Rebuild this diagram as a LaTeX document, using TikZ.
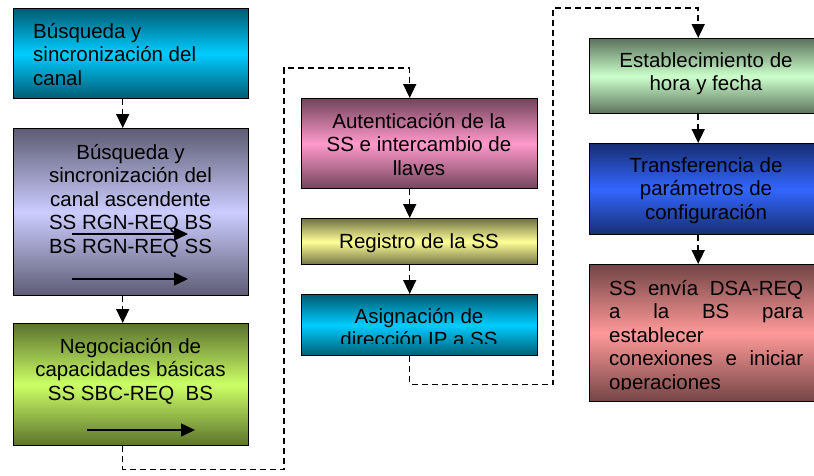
\documentclass[tikz,border=0pt]{standalone}
\usepackage{fontspec}
\setmainfont{Liberation Sans}
\usetikzlibrary{arrows.meta}
\definecolor{cyanc}{HTML}{00CCFF}
\definecolor{lavc}{HTML}{CCCCFF}
\definecolor{limec}{HTML}{CCFF66}
\definecolor{pinkc}{HTML}{FF99CC}
\definecolor{yelc}{HTML}{FFFF99}
\definecolor{mintc}{HTML}{CCFFCC}
\definecolor{bluec}{HTML}{3366FF}
\definecolor{rosec}{HTML}{FF9999}
\begin{document}
\begin{tikzpicture}[x=1pt,y=-1pt,
  box/.style={draw=black,line width=1.4pt,anchor=north west,inner sep=0pt,
    minimum width=235pt,top color=#1!45!black,bottom color=#1!45!black,middle color=#1},
  txt/.style={inner sep=0pt,font=\fontsize{20.5pt}{23.5pt}\selectfont},
  conn/.style={line width=1.5pt,dash pattern=on 6pt off 4pt,
    -{Triangle[length=14pt,width=13pt]}},
  inarrow/.style={line width=1.5pt,-{Triangle[length=14pt,width=13pt]}}]
\useasboundingbox (0,0) rectangle (814,475);
% boxes
\node[box=cyanc,minimum height=90pt] (b1) at (13,8) {};
\node[box=lavc,minimum height=167pt] (b2) at (13,128) {};
\node[box=limec,minimum height=122pt] (b3) at (13,323) {};
\node[box=pinkc,minimum height=90pt,minimum width=236pt] (b4) at (301,98) {};
\node[box=yelc,minimum height=46pt,minimum width=236pt] (b5) at (301,218) {};
\node[box=cyanc,minimum height=61pt,minimum width=236pt] (b6) at (301,294) {};
\node[box=mintc,minimum height=75pt] (b7) at (589,38) {};
\node[box=bluec,minimum height=91pt] (b8) at (589,143) {};
\node[box=rosec,minimum height=137pt] (b9) at (589,264) {};
% texts
\node[txt,anchor=base west] (t1) at (33,38) {\begin{minipage}[t]{210pt}\raggedright
Búsqueda y\\ sincronización del\\ canal\end{minipage}};
\node[txt,anchor=base] (t2) at (130.5,159) {\begin{minipage}[t]{235pt}\centering
Búsqueda y\\ sincronización del\\ canal ascendente\\ SS RGN-REQ BS\\ BS RGN-REQ SS\end{minipage}};
\node[txt,anchor=base] (t3) at (130.5,353) {\begin{minipage}[t]{235pt}\centering
Negociación de\\ capacidades básicas\\ SS SBC-REQ\ \ BS\end{minipage}};
\node[txt,anchor=base] (t4) at (419,128) {\begin{minipage}[t]{236pt}\centering
Autenticación de la\\ SS e intercambio de\\ llaves\end{minipage}};
\node[txt,anchor=base] (t5) at (419,248) {Registro de la SS};
\begin{scope}
\clip (301,294) rectangle (537,343);
\node[txt,anchor=base] (t6) at (419,323) {\begin{minipage}[t]{236pt}\centering
Asignación de\\ dirección IP a SS\end{minipage}};
\end{scope}
\node[txt,anchor=base] (t7) at (706,67) {\begin{minipage}[t]{235pt}\centering
Establecimiento de\\ hora y fecha\end{minipage}};
\node[txt,anchor=base] (t8) at (706,172) {\begin{minipage}[t]{235pt}\centering
Transferencia de\\ parámetros de\\ configuración\end{minipage}};
\begin{scope}
\clip (589,264) rectangle (823,389);
\node[txt,anchor=base west] (t9) at (609,295) {\begin{minipage}[t]{194pt}\raggedright
\makebox[\linewidth][s]{SS envía DSA-REQ}\\
\makebox[\linewidth][s]{a la BS para}\\
establecer\\
\makebox[\linewidth][s]{conexiones e iniciar}\\
operaciones\end{minipage}};
\end{scope}
% arrows inside boxes
\draw[inarrow] (72,234) -- (188,234);
\draw[inarrow] (72,279) -- (188,279);
\draw[inarrow] (87,430) -- (195,430);
% connectors
\draw[conn] ([xshift=-8.5pt]b1.south) -- ([xshift=-8.5pt]b2.north);
\draw[conn] ([xshift=-8.5pt]b2.south) -- ([xshift=-8.5pt]b3.north);
\draw[conn] ([xshift=-8.5pt]b3.south) -- ++(0,23) -| (284,68) -| ([xshift=-10pt]b4.north);
\draw[conn] ([xshift=-10pt]b4.south) -- ([xshift=-10pt]b5.north);
\draw[conn] ([xshift=-10pt]b5.south) -- ([xshift=-10pt]b6.north);
\draw[conn] ([xshift=-10pt]b6.south) -- ++(0,28) -| (553,8) -| ([xshift=-9pt]b7.north);
\draw[conn] ([xshift=-9pt]b7.south) -- ([xshift=-9pt]b8.north);
\draw[conn] ([xshift=-9pt]b8.south) -- ([xshift=-9pt]b9.north);
\end{tikzpicture}
\end{document}
